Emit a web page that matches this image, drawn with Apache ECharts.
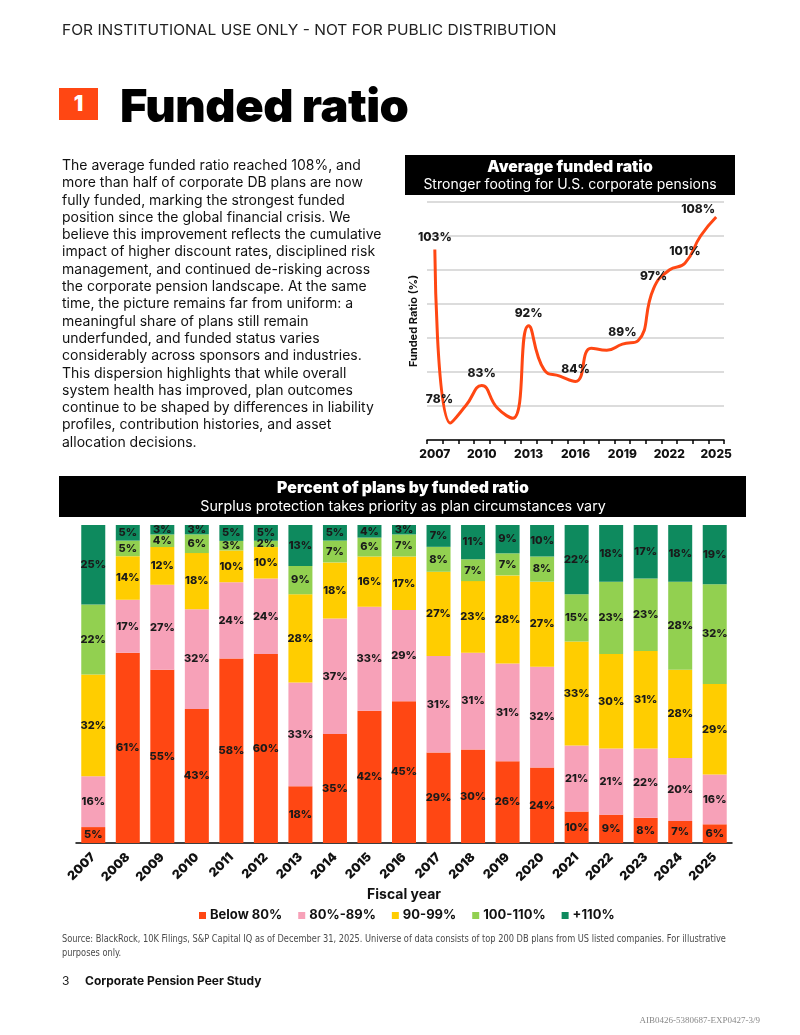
<!DOCTYPE html>
<html>
<head>
<meta charset="utf-8">
<script src="https://cdn.jsdelivr.net/npm/echarts@6.0.0/dist/echarts.min.js"></script>
<style>
  html, body { margin: 0; padding: 0; background: #fff; }
  #page { position: relative; width: 800px; height: 1035px; overflow: hidden; font-family: Inter, "Noto Sans", sans-serif; color: #111; }
  #chart { position: absolute; left: 0; top: 0; width: 800px; height: 1035px; }
  .abs { position: absolute; white-space: nowrap; transform-origin: left top; }
  #topline { left: 62px; top: 20px; font-size: 15px; color: #222; }
  #badge { left: 59px; top: 88px; width: 39px; height: 32px; background: #ff4713; color: #fff; font-weight: 900; font-size: 21px; line-height: 32px; text-align: center; }
  #heading { left: 120px; top: 77px; font-size: 46px; font-weight: 900; color: #000; letter-spacing: -0.5px; }
  #para { left: 62px; top: 156px; font-size: 14px; line-height: 17.3px; color: #111; }
  #source { left: 62px; top: 932px; font-family: "Liberation Sans Narrow", "DejaVu Sans Condensed", sans-serif; font-size: 11px; line-height: 14px; color: #4a4a4a; }
  #pnum { left: 62px; top: 973px; font-size: 12px; color: #222; }
  #ptitle { left: 85px; top: 973px; font-size: 12px; font-weight: 700; color: #111; }
  #code { right: 40px; top: 1015px; font-family: "Liberation Serif", "DejaVu Serif", serif; font-size: 9px; color: #888; }
</style>
</head>
<body>
<div id="page">
  <div id="chart"></div>
  <div class="abs" id="topline">FOR INSTITUTIONAL USE ONLY - NOT FOR PUBLIC DISTRIBUTION</div>
  <div class="abs" id="badge">1</div>
  <div class="abs" id="heading">Funded ratio</div>
  <div class="abs" id="para">The average funded ratio reached 108%, and<br>more than half of corporate DB plans are now<br>fully funded, marking the strongest funded<br>position since the global financial crisis. We<br>believe this improvement reflects the cumulative<br>impact of higher discount rates, disciplined risk<br>management, and continued de-risking across<br>the corporate pension landscape. At the same<br>time, the picture remains far from uniform: a<br>meaningful share of plans still remain<br>underfunded, and funded status varies<br>considerably across sponsors and industries.<br>This dispersion highlights that while overall<br>system health has improved, plan outcomes<br>continue to be shaped by differences in liability<br>profiles, contribution histories, and asset<br>allocation decisions.</div>
  <div class="abs" id="source">Source: BlackRock, 10K Filings, S&amp;P Capital IQ as of December 31, 2025. Universe of data consists of top 200 DB plans from US listed companies. For illustrative<br>purposes only.</div>
  <div class="abs" id="pnum">3</div>
  <div class="abs" id="ptitle">Corporate Pension Peer Study</div>
  <div class="abs" id="code">AIB0426-5380687-EXP0427-3/9</div>
</div>
<script>
// fiscal years
const years = ['2007', '2008', '2009', '2010', '2011', '2012', '2013', '2014', '2015', '2016',
  '2017', '2018', '2019', '2020', '2021', '2022', '2023', '2024', '2025'];

// average funded ratio (%)
const avgFunded = [103, 77.5, 80.1, 83, 79.7, 78.2, 91.8, 85.3, 84.4, 83.6,
  88.5, 88.2, 89.1, 89.6, 97.3, 100, 101, 105, 107.8];
// years that carry a value label
const labeledYears = ['2007', '2008', '2010', '2013', '2016', '2019', '2021', '2023', '2025'];

// percent of plans by funded ratio bucket
const bucketNames = ['Below 80%', '80%-89%', '90-99%', '100-110%', '+110%'];
const below80 = [5, 61, 55, 43, 58, 60, 18, 35, 42, 45, 29, 30, 26, 24, 10, 9, 8, 7, 6];
const r80to89 = [16, 17, 27, 32, 24, 24, 33, 37, 33, 29, 31, 31, 31, 32, 21, 21, 22, 20, 16];
const r90to99 = [32, 14, 12, 18, 10, 10, 28, 18, 16, 17, 27, 23, 28, 27, 33, 30, 31, 28, 29];
const r100to110 = [22, 5, 4, 6, 3, 2, 9, 7, 6, 7, 8, 7, 7, 8, 15, 23, 23, 28, 32];
const over110 = [25, 5, 3, 3, 5, 5, 13, 5, 4, 3, 7, 11, 9, 10, 22, 18, 17, 18, 19];

const bucketColors = ['#ff4713', '#f7a1b8', '#ffcd00', '#92d050', '#0e8a5e'];
const buckets = [below80, r80to89, r90to99, r100to110, over110];

// rounded shares don't always add to 100, scale each column so bars end level
const totals = years.map((y, i) => buckets.reduce((s, b) => s + b[i], 0));

const lineColor = '#ff4713';

// squeeze / stretch a text block to the width it has on the printed page
const fitWidth = (id, w) => {
  const el = document.getElementById(id);
  el.style.transform = 'scaleX(' + (w / el.scrollWidth) + ')';
};
fitWidth('topline', 495);
fitWidth('heading', 288);
fitWidth('source', 664);

let myChart = echarts.init(document.getElementById('chart'), null, { renderer: 'canvas' });

const labelOffsets = { '2008': [-11, -12], '2025': [-18, 4] };

const lineData = avgFunded.map((v, i) => {
  const show = labeledYears.includes(years[i]);
  return {
    value: v,
    label: { show: show, offset: labelOffsets[years[i]] || [0, 0] }
  };
});

const barSeries = buckets.map((b, k) => ({
  name: bucketNames[k],
  type: 'bar',
  stack: 'plans',
  xAxisIndex: 1,
  yAxisIndex: 1,
  barWidth: 24,
  itemStyle: { color: bucketColors[k] },
  label: {
    show: true,
    position: 'inside',
    color: '#1a1a1a',
    fontWeight: 800,
    fontSize: 11,
    fontFamily: 'Inter',
    formatter: (p) => p.data.raw + '%'
  },
  data: b.map((v, i) => ({ value: v / totals[i] * 100, raw: v }))
}));

const option = {
  animation: false,
  textStyle: { fontFamily: 'Inter' },
  graphic: [
    // header of the line chart
    { type: 'rect', shape: { x: 405, y: 155, width: 330, height: 40 }, style: { fill: '#000' } },
    { type: 'text', x: 570, y: 167, style: { text: 'Average funded ratio', fill: '#fff', font: '900 15.7px Inter', textAlign: 'center', textVerticalAlign: 'middle' } },
    { type: 'text', x: 570, y: 185, style: { text: 'Stronger footing for U.S. corporate pensions', fill: '#fff', font: '14px Inter', textAlign: 'center', textVerticalAlign: 'middle' } },
    // header of the bar chart
    { type: 'rect', shape: { x: 59, y: 476, width: 687, height: 41 }, style: { fill: '#000' } },
    { type: 'text', x: 403, y: 488, style: { text: 'Percent of plans by funded ratio', fill: '#fff', font: '900 15.8px Inter', textAlign: 'center', textVerticalAlign: 'middle' } },
    { type: 'text', x: 403, y: 507, style: { text: 'Surplus protection takes priority as plan circumstances vary', fill: '#fff', font: '14.3px Inter', textAlign: 'center', textVerticalAlign: 'middle' } }
  ],
  grid: [
    { left: 427, top: 202, width: 297, height: 238 },
    { left: 76, top: 525, width: 656, height: 318 }
  ],
  legend: {
    data: bucketNames,
    left: 194,
    top: 904,
    icon: 'rect',
    itemWidth: 7,
    itemHeight: 7,
    itemGap: 16,
    textStyle: { fontWeight: 'bold', fontSize: 13, color: '#111', fontFamily: 'Inter', padding: [0, 0, 0, -1] }
  },
  xAxis: [
    {
      type: 'category',
      gridIndex: 0,
      data: years,
      boundaryGap: true,
      axisLine: { lineStyle: { color: '#000', width: 1.5 } },
      axisTick: { show: true, interval: 0, length: 4, lineStyle: { color: '#000', width: 1.5 } },
      axisLabel: { interval: 2, color: '#111', fontWeight: 800, fontSize: 12, margin: 8 }
    },
    {
      type: 'category',
      gridIndex: 1,
      data: years,
      axisLine: { lineStyle: { color: '#000', width: 1.5 } },
      axisTick: { show: false },
      axisLabel: { interval: 0, rotate: 45, color: '#111', fontWeight: 900, fontSize: 12.5, margin: 12 },
      name: 'Fiscal year',
      nameLocation: 'middle',
      nameGap: 45,
      nameTextStyle: { fontWeight: 'bold', fontSize: 14, color: '#111' }
    }
  ],
  yAxis: [
    {
      type: 'value',
      gridIndex: 0,
      min: 75,
      max: 110,
      interval: 5,
      axisLine: { show: false },
      axisTick: { show: false },
      axisLabel: { show: false },
      splitLine: { lineStyle: { color: '#d0d0d0', width: 1.5 } },
      name: 'Funded Ratio (%)',
      nameLocation: 'middle',
      nameGap: 8,
      nameTextStyle: { fontWeight: 'bold', fontSize: 11, color: '#111' }
    },
    {
      type: 'value',
      gridIndex: 1,
      min: 0,
      max: 100,
      show: false
    }
  ],
  series: [
    {
      name: 'Average funded ratio',
      type: 'line',
      xAxisIndex: 0,
      yAxisIndex: 0,
      smooth: 0.5,
      symbol: 'circle',
      symbolSize: 0,
      showSymbol: true,
      itemStyle: { color: lineColor },
      lineStyle: { color: lineColor, width: 3 },
      label: {
        position: 'top',
        distance: 6,
        color: '#1a1a1a',
        fontWeight: 800,
        fontSize: 12,
        formatter: (p) => Math.round(p.value) + '%'
      },
      data: lineData
    },
    ...barSeries
  ]
};

option && myChart.setOption(option);
</script>
</body>
</html>
